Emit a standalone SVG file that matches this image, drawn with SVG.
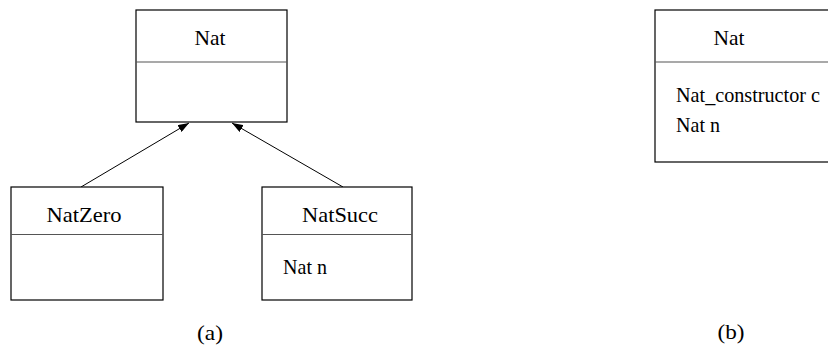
<svg xmlns="http://www.w3.org/2000/svg" width="828" height="345" viewBox="0 0 828 345">
<defs>
<style>
.box{fill:#fff;stroke:#000;stroke-width:1.2}
.div{stroke:#555;stroke-width:1.2}
.t{font-family:"Liberation Serif","Times New Roman",serif;font-size:21px;fill:#000}
.m{text-anchor:middle}
.edge{stroke:#000;stroke-width:1;fill:none;marker-end:url(#ah)}
</style>
<marker id="ah" viewBox="0 0 11 8" refX="11" refY="4" markerWidth="11" markerHeight="8" markerUnits="userSpaceOnUse" orient="auto">
<path d="M0,0 L11,4 L0,8 z" fill="#000"/>
</marker>
</defs>
<g id="edges">
<line class="edge" x1="81" y1="187" x2="189" y2="123"/>
<line class="edge" x1="343" y1="187" x2="232" y2="123"/>
</g>
<g id="nat-a">
<rect class="box" x="136" y="10" width="151" height="112"/>
<line class="div" x1="136" y1="62" x2="287" y2="62"/>
<text class="t m" x="210" y="45" textLength="31" lengthAdjust="spacingAndGlyphs">Nat</text>
</g>
<g id="natzero">
<rect class="box" x="11" y="187" width="152" height="113"/>
<line class="div" x1="11" y1="234.5" x2="163" y2="234.5"/>
<text class="t m" x="84" y="222" textLength="75" lengthAdjust="spacingAndGlyphs">NatZero</text>
</g>
<g id="natsucc">
<rect class="box" x="262" y="187" width="150" height="113"/>
<line class="div" x1="262" y1="234.5" x2="412" y2="234.5"/>
<text class="t m" x="340" y="222" textLength="76" lengthAdjust="spacingAndGlyphs">NatSucc</text>
<text class="t" x="283" y="274" textLength="44" lengthAdjust="spacingAndGlyphs">Nat n</text>
</g>
<g id="nat-b">
<rect class="box" x="655" y="10" width="180" height="152"/>
<line class="div" x1="655" y1="62" x2="835" y2="62"/>
<text class="t m" x="729" y="45" textLength="31" lengthAdjust="spacingAndGlyphs">Nat</text>
<text class="t" x="676" y="102" textLength="144" lengthAdjust="spacingAndGlyphs">Nat_constructor c</text>
<text class="t" x="676" y="132" textLength="44" lengthAdjust="spacingAndGlyphs">Nat n</text>
</g>
<g id="captions">
<text class="t m" x="210" y="340" textLength="26" lengthAdjust="spacingAndGlyphs">(a)</text>
<text class="t m" x="731" y="339" textLength="27" lengthAdjust="spacingAndGlyphs">(b)</text>
</g>
</svg>
